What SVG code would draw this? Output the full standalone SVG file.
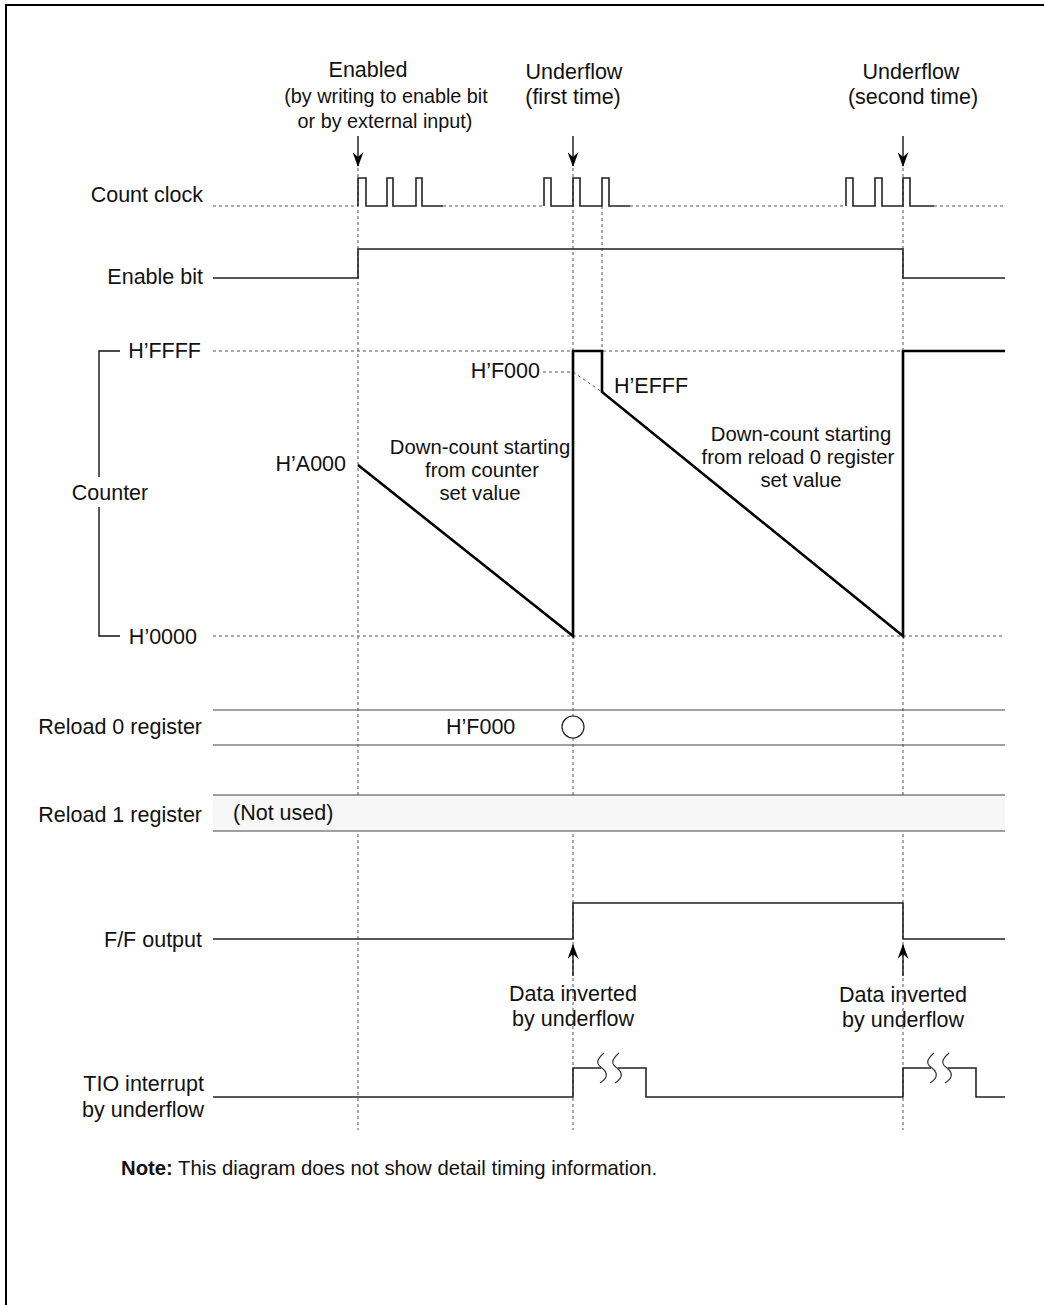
<svg xmlns="http://www.w3.org/2000/svg" width="1044" height="1305" viewBox="0 0 1044 1305">
<defs>
<style>
text{font-family:"Liberation Sans",Arial,sans-serif;font-size:21.5px;fill:#111}
.r{text-anchor:end}
.m{text-anchor:middle}
.s{font-size:20.3px}
.dot{stroke:#555;stroke-width:1;stroke-dasharray:3,3;fill:none}
.sig{stroke:#222;stroke-width:1.6;fill:none}
.thick{stroke:#000;stroke-width:2.6;fill:none}
.reg{stroke:#444;stroke-width:1.2;fill:none}
.arr{stroke:#000;stroke-width:1.3}
</style>
<marker id="ah" markerWidth="15" markerHeight="11" refX="14" refY="5.5" orient="auto" markerUnits="userSpaceOnUse" viewBox="0 0 15 11">
<path d="M0,0 L15,5.5 L0,11 L5,5.5 Z" fill="#000"/>
</marker>
</defs>
<rect width="1044" height="1305" fill="#fff"/>
<path d="M6,1305 V5 H1044" stroke="#000" stroke-width="2" fill="none"/>

<g id="guides">
<line class="dot" x1="358" y1="168" x2="358" y2="1130"/>
<line class="dot" x1="573" y1="168" x2="573" y2="1130"/>
<line class="dot" x1="602" y1="206" x2="602" y2="351"/>
<line class="dot" x1="903" y1="168" x2="903" y2="1130"/>
<line class="dot" x1="213" y1="206" x2="358" y2="206"/>
<line class="dot" x1="443" y1="206" x2="544" y2="206"/>
<line class="dot" x1="630" y1="206" x2="846" y2="206"/>
<line class="dot" x1="934" y1="206" x2="1005" y2="206"/>
<line class="dot" x1="213" y1="351" x2="1005" y2="351"/>
<line class="dot" x1="213" y1="636" x2="1005" y2="636"/>
<path class="dot" d="M543,372 H573 L602,392"/>
</g>

<g id="labels-top">
<text class="m" x="368" y="77">Enabled</text>
<text class="m" x="386" y="103" style="font-size:19.8px">(by writing to enable bit</text>
<text class="m" x="385" y="128" style="font-size:19.8px">or by external input)</text>
<text class="m" x="574" y="79">Underflow</text>
<text class="m" x="573" y="104">(first time)</text>
<text class="m" x="911" y="79">Underflow</text>
<text class="m" x="913" y="104">(second time)</text>
</g>

<g id="connectors">
<line class="arr" x1="358" y1="136" x2="358" y2="166" marker-end="url(#ah)"/>
<line class="arr" x1="573" y1="136" x2="573" y2="166" marker-end="url(#ah)"/>
<line class="arr" x1="903" y1="136" x2="903" y2="166" marker-end="url(#ah)"/>
<line class="arr" x1="573" y1="976" x2="573" y2="945" marker-end="url(#ah)"/>
<line class="arr" x1="903" y1="976" x2="903" y2="945" marker-end="url(#ah)"/>
</g>

<g id="count-clock">
<text class="r" x="203" y="202">Count clock</text>
<path class="sig" d="M358,206 V178 H366 V206 H387 V178 H393 V206 H416 V178 H422 V206 H443"/>
<path class="sig" d="M544,206 V178 H551 V206 H573 V178 H580 V206 H602 V178 H609 V206 H630"/>
<path class="sig" d="M846,206 V178 H853 V206 H875 V178 H882 V206 H903 V178 H910 V206 H934"/>
</g>

<g id="enable-bit">
<text class="r" x="203" y="284">Enable bit</text>
<path class="sig" d="M213,278 H358 V249 H903 V278 H1005"/>
</g>

<g id="counter">
<text class="m" x="110" y="500">Counter</text>
<path d="M120,351 H99 V477 M99,507 V636 H120" stroke="#111" stroke-width="1.4" fill="none"/>
<text class="r" x="201" y="358">H’FFFF</text>
<text class="r" x="197" y="644">H’0000</text>
<text class="r" x="346" y="471">H’A000</text>
<text class="r" x="540" y="378">H’F000</text>
<text x="614" y="393">H’EFFF</text>
<path class="thick" d="M358,465 L573,636 V351 H602 V392 L903,636 V351 H1005"/>
<text class="m s" x="480" y="454">Down-count starting</text>
<text class="m s" x="482" y="477">from counter</text>
<text class="m s" x="480" y="500">set value</text>
<text class="m s" x="801" y="441">Down-count starting</text>
<text class="m s" x="798" y="464">from reload 0 register</text>
<text class="m s" x="801" y="487">set value</text>
</g>

<g id="reload0">
<text class="r" x="202" y="734">Reload 0 register</text>
<line class="reg" x1="213" y1="710" x2="1005" y2="710"/>
<line class="reg" x1="213" y1="745" x2="1005" y2="745"/>
<text x="446" y="734">H’F000</text>
<circle cx="573" cy="727" r="11" fill="#fff" stroke="#222" stroke-width="1.2"/>
</g>

<g id="reload1">
<rect x="213" y="795" width="792" height="36" fill="#f7f7f7"/>
<line class="reg" x1="213" y1="795" x2="1005" y2="795"/>
<line class="reg" x1="213" y1="831" x2="1005" y2="831"/>
<text class="r" x="202" y="822">Reload 1 register</text>
<text x="233" y="820">(Not used)</text>
</g>

<g id="ff-output">
<text class="r" x="202" y="947">F/F output</text>
<path class="sig" d="M213,939 H573 V903 H903 V939 H1005"/>
<text class="m" x="573" y="1001">Data inverted</text>
<text class="m" x="573" y="1026">by underflow</text>
<text class="m" x="903" y="1002">Data inverted</text>
<text class="m" x="903" y="1027">by underflow</text>
</g>

<g id="tio">
<text class="r" x="204" y="1091">TIO interrupt</text>
<text class="r" x="204" y="1117">by underflow</text>
<path class="sig" d="M213,1097 H573 V1068 H601 M618,1068 H646 V1097 H903 V1068 H931 M948,1068 H976 V1097 H1005"/>
<path d="M604,1053 C596,1060 596,1064 602,1068 C608,1073 608,1078 600,1083 M619,1053 C611,1060 611,1064 617,1068 C623,1073 623,1078 615,1083" stroke="#333" stroke-width="1.2" fill="none"/>
<path d="M934,1053 C926,1060 926,1064 932,1068 C938,1073 938,1078 930,1083 M949,1053 C941,1060 941,1064 947,1068 C953,1073 953,1078 945,1083" stroke="#333" stroke-width="1.2" fill="none"/>
</g>

<g id="note">
<text x="121" y="1175" style="font-size:20.3px"><tspan font-weight="bold">Note:</tspan> This diagram does not show detail timing information.</text>
</g>
</svg>
